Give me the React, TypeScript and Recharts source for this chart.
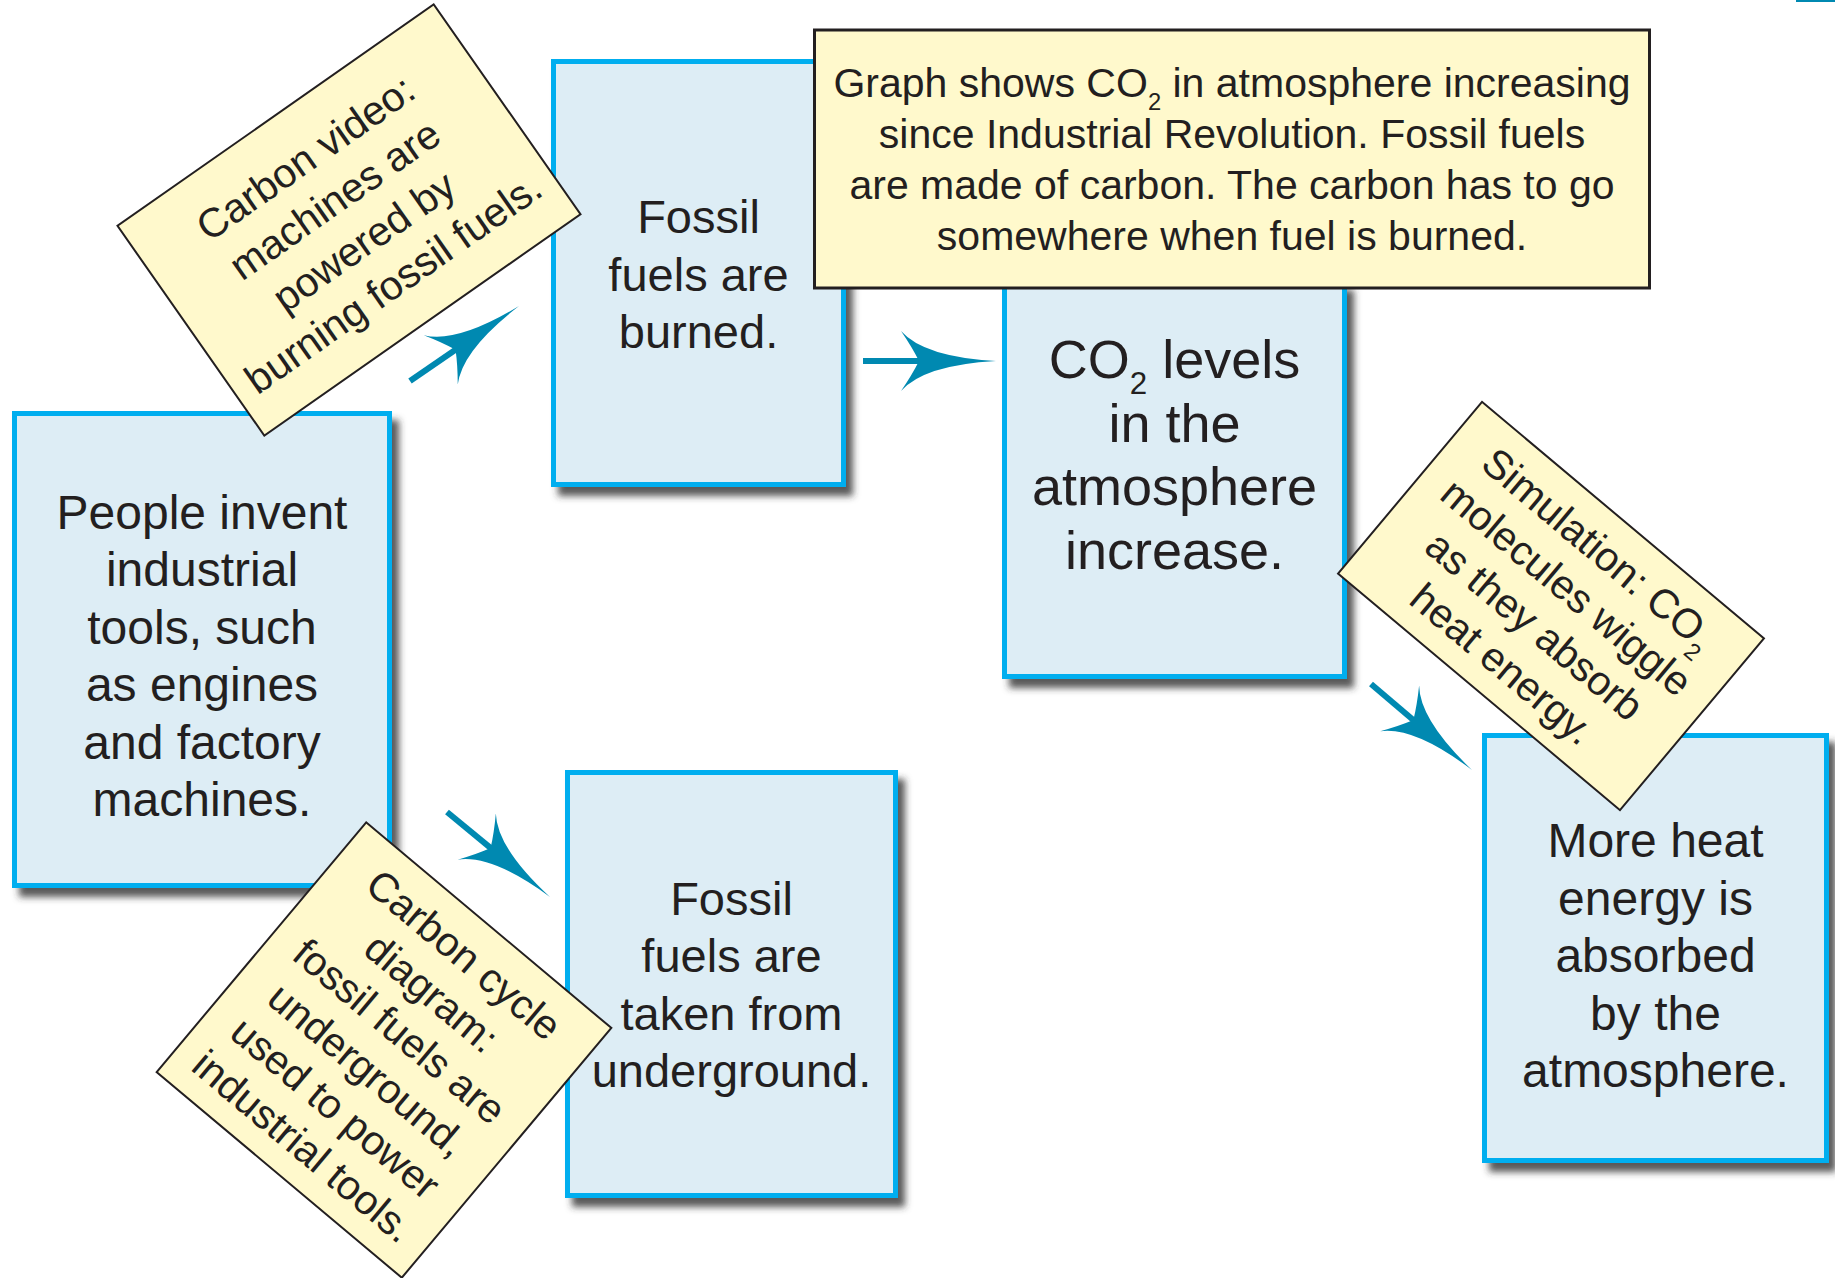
import React from 'react';
import { ComposedChart, XAxis, YAxis, ReferenceArea, ReferenceLine } from 'recharts';

const WIDTH = 1835;
const HEIGHT = 1278;

const INK = '#231f20';
const ARROW = '#0089b1';
const FONT = '"Liberation Sans", Arial, Helvetica, sans-serif';

// blue step boxes: text, then layout in diagram units
const stepText: string[][] = [
  ['People invent', 'industrial', 'tools, such', 'as engines', 'and factory', 'machines.'],
  ['Fossil', 'fuels are', 'burned.'],
  ['CO₂ levels', 'in the', 'atmosphere', 'increase.'],
  ['More heat', 'energy is', 'absorbed', 'by the', 'atmosphere.'],
  ['Fossil', 'fuels are', 'taken from', 'underground.'],
];
const stepX1 = [12, 551, 1002, 1482, 565];
const stepX2 = [392, 846, 1347, 1829, 898];
const stepY1 = [411, 59, 281, 733, 770];
const stepY2 = [888, 487, 679, 1163, 1198];
const stepBaseline = [529, 233, 378, 857, 915];
const stepFont = [48, 47, 54, 48, 47];
const stepLeading = [57.4, 57.5, 63.5, 57.5, 57.3];

// yellow evidence notes
const noteText: string[][] = [
  [
    'Graph shows CO₂ in atmosphere increasing',
    'since Industrial Revolution. Fossil fuels',
    'are made of carbon. The carbon has to go',
    'somewhere when fuel is burned.',
  ],
  ['Carbon video:', 'machines are', 'powered by', 'burning fossil fuels.'],
  ['Simulation: CO₂', 'molecules wiggle', 'as they absorb', 'heat energy.'],
  ['Carbon cycle', 'diagram:', 'fossil fuels are', 'underground,', 'used to power', 'industrial tools.'],
];
const noteCx = [1232, 349, 1551, 384];
const noteCy = [159, 220, 606, 1050];
const noteW = [835, 386, 368, 320];
const noteH = [258, 256, 224, 326];
const noteAngle = [0, -35, 40, 40];
const noteFont = [41, 41, 41, 41];
const noteLeading = [51, 51, 50, 50];

// flow arrows (start, tip)
const arrowFrom = [
  [410, 381],
  [863, 361],
  [1371, 684],
  [447, 812],
];
const arrowTo = [
  [519, 306],
  [996, 361],
  [1472, 770],
  [550, 897],
];

function TextLine({ text, x, y, size }: { text: string; x: number; y: number; size: number }) {
  const i = text.indexOf('₂');
  const common = { x, y, textAnchor: 'middle' as const, fontSize: size, fill: INK, fontFamily: FONT };
  if (i < 0) return <text {...common}>{text}</text>;
  const shift = size * 0.3;
  return (
    <text {...common}>
      {text.slice(0, i)}
      <tspan fontSize={size * 0.58} dy={shift}>2</tspan>
      <tspan dy={-shift}>{text.slice(i + 1)}</tspan>
    </text>
  );
}

const makeStepShape = (i: number) => (p: any) => {
  const { x, y, width, height } = p;
  const k = height / (stepY2[i] - stepY1[i]);
  const cx = x + width / 2;
  const base = y + (stepBaseline[i] - stepY1[i]) * k;
  return (
    <g>
      <defs>
        <filter id={`drop${i}`} x="-10%" y="-10%" width="130%" height="130%">
          <feDropShadow dx={7} dy={9} stdDeviation={3.5} floodColor="#2e2e2e" floodOpacity={0.8} />
        </filter>
      </defs>
      <rect
        x={x + 2.5}
        y={y + 2.5}
        width={width - 5}
        height={height - 5}
        fill="#ddedf5"
        stroke="#00aeef"
        strokeWidth={5}
        filter={`url(#drop${i})`}
      />
      {stepText[i].map((t, j) => (
        <TextLine key={j} text={t} x={cx} y={base + j * stepLeading[i] * k} size={stepFont[i]} />
      ))}
    </g>
  );
};

const makeNoteShape = (i: number) => (p: any) => {
  const { x, y, width, height } = p;
  const cx = x + width / 2;
  const cy = y + height / 2;
  const n = noteText[i].length;
  const fs = noteFont[i];
  return (
    <g transform={`rotate(${noteAngle[i]}, ${cx}, ${cy})`}>
      <rect
        x={x}
        y={y}
        width={width}
        height={height}
        fill="#fff9cc"
        stroke={INK}
        strokeWidth={i === 0 ? 3 : 2}
      />
      {noteText[i].map((t, j) => (
        <TextLine
          key={j}
          text={t}
          x={cx}
          y={cy + (j - (n - 1) / 2) * noteLeading[i] + fs * 0.36}
          size={fs}
        />
      ))}
    </g>
  );
};

function Arrow(p: any) {
  const { x1, y1, x2, y2 } = p;
  const ang = (Math.atan2(y2 - y1, x2 - x1) * 180) / Math.PI;
  const len = Math.hypot(x2 - x1, y2 - y1);
  return (
    <g transform={`translate(${x2},${y2}) rotate(${ang})`}>
      <line x1={-len} y1={0} x2={-74} y2={0} stroke={ARROW} strokeWidth={6} />
      <path d="M0,0 Q-72,-4 -95,-30 Q-84,-14 -77,0 Q-84,14 -95,30 Q-72,4 0,0 Z" fill={ARROW} />
    </g>
  );
}

export default function App() {
  return (
    <div style={{ position: 'absolute', left: 0, top: 0, width: WIDTH, height: HEIGHT, background: '#fff' }}>
      <ComposedChart width={WIDTH} height={HEIGHT} margin={{ top: 0, right: 0, bottom: 0, left: 0 }} data={[]}>
        <XAxis type="number" dataKey="x" domain={[0, WIDTH]} allowDataOverflow hide />
        <YAxis type="number" dataKey="y" domain={[0, HEIGHT]} allowDataOverflow reversed hide />
        {stepText.map((_, i) => (
          <ReferenceArea
            key={`step-${i}`}
            x1={stepX1[i]}
            x2={stepX2[i]}
            y1={stepY1[i]}
            y2={stepY2[i]}
            ifOverflow="visible"
            shape={makeStepShape(i)}
          />
        ))}
        {noteText.map((_, i) => (
          <ReferenceArea
            key={`note-${i}`}
            x1={noteCx[i] - noteW[i] / 2}
            x2={noteCx[i] + noteW[i] / 2}
            y1={noteCy[i] - noteH[i] / 2}
            y2={noteCy[i] + noteH[i] / 2}
            ifOverflow="visible"
            shape={makeNoteShape(i)}
          />
        ))}
        {arrowFrom.map((a, i) => (
          <ReferenceLine
            key={`arrow-${i}`}
            segment={[
              { x: a[0], y: a[1] },
              { x: arrowTo[i][0], y: arrowTo[i][1] },
            ]}
            ifOverflow="visible"
            shape={Arrow}
          />
        ))}
        <ReferenceArea x1={1796} x2={1835} y1={0} y2={2} ifOverflow="visible" fill={ARROW} fillOpacity={1} />
      </ComposedChart>
    </div>
  );
}
